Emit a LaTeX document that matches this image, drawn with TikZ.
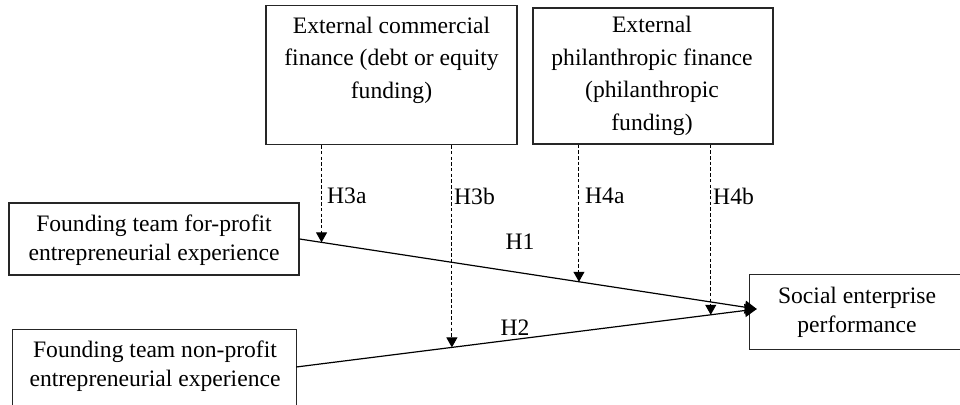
\documentclass[tikz,border=0pt]{standalone}
\usepackage{fontspec}
\setmainfont{Liberation Serif}
\usetikzlibrary{arrows.meta,calc}
\begin{document}
\begin{tikzpicture}[x=1pt,y=-1pt,
  box/.style={draw=black!85,line width=1.2pt,rectangle,inner sep=0pt},
  openbox/.style={rectangle,inner sep=0pt},
  edge/.style={draw=black!85,line width=1.2pt},
  txt/.style={align=center,inner sep=0pt,font=\fontsize{23.6}{29}\selectfont},
  lbl/.style={inner sep=0pt,font=\fontsize{23.6}{29}\selectfont},
  main/.style={line width=1.2pt,-{Triangle[length=12pt,width=13pt]}},
  mod/.style={line width=1pt,dash pattern=on 3.5pt off 2.2pt,-{Triangle[length=10pt,width=11pt]}}]
\useasboundingbox (0,0) rectangle (960,404);
\clip (0,0) rectangle (960,404);
% boxes
\node[box,minimum width=251pt,minimum height=139pt] (A) at (391.5,75) {};
\node[box,minimum width=240pt,minimum height=136pt] (B) at (653,76) {};
\node[box,minimum width=290pt,minimum height=72pt] (C) at (154,239) {};
\node[openbox,minimum width=283pt,minimum height=80pt] (D) at (154.5,370) {};
\draw[edge] (D.south west) -- (D.north west) -- (D.north east) -- (D.south east);
\node[openbox,minimum width=240pt,minimum height=74pt] (E) at (870,312) {};
\draw[edge] (E.north east) -- (E.north west) -- (E.south west) -- (E.south east);
% texts
\node[txt,font=\fontsize{23.6}{32.6}\selectfont] (At) at (391.5,60) {External commercial\\finance (debt or equity\\funding)};
\node[txt,font=\fontsize{23.6}{32.6}\selectfont] (Bt) at (652,76) {External\\philanthropic finance\\(philanthropic\\funding)};
\node[txt] (Ct) at (154,240) {Founding team for-profit\\entrepreneurial experience};
\node[txt,font=\fontsize{23.6}{28.5}\selectfont] (Dt) at (155,366) {Founding team non-profit\\entrepreneurial experience};
\node[txt] (Et) at (857,312) {Social enterprise\\performance};
% main paths
\coordinate (tip) at ([xshift=7pt,yshift=3pt]E.west);
\coordinate (dstart) at ([yshift=3pt]D.east);
\draw[main] (C.east) -- (tip);
\draw[main] (dstart) -- (tip);
% points on paths
\coordinate (p3a) at ($(C.east)!0.048!(tip)$);
\coordinate (p4a) at ($(C.east)!0.611!(tip)$);
\coordinate (p3b) at ($(dstart)!0.338!(tip)$);
\coordinate (p4b) at ($(dstart)!0.900!(tip)$);
\draw[mod] (A.south -| p3a) -- (p3a);
\draw[mod] (A.south -| p3b) -- (p3b);
\draw[mod] (B.south -| p4a) -- (p4a);
\draw[mod] (B.south -| p4b) -- (p4b);
% labels
\node[lbl,anchor=west] (L3a) at (327,196) {H3a};
\node[lbl,anchor=west] (L3b) at (454,196) {H3b};
\node[lbl,anchor=west] (L4a) at (585,196) {H4a};
\node[lbl,anchor=west] (L4b) at (713,196) {H4b};
\node[lbl] (L1) at (520,242) {H1};
\node[lbl] (L2) at (515,328) {H2};
\end{tikzpicture}
\end{document}
